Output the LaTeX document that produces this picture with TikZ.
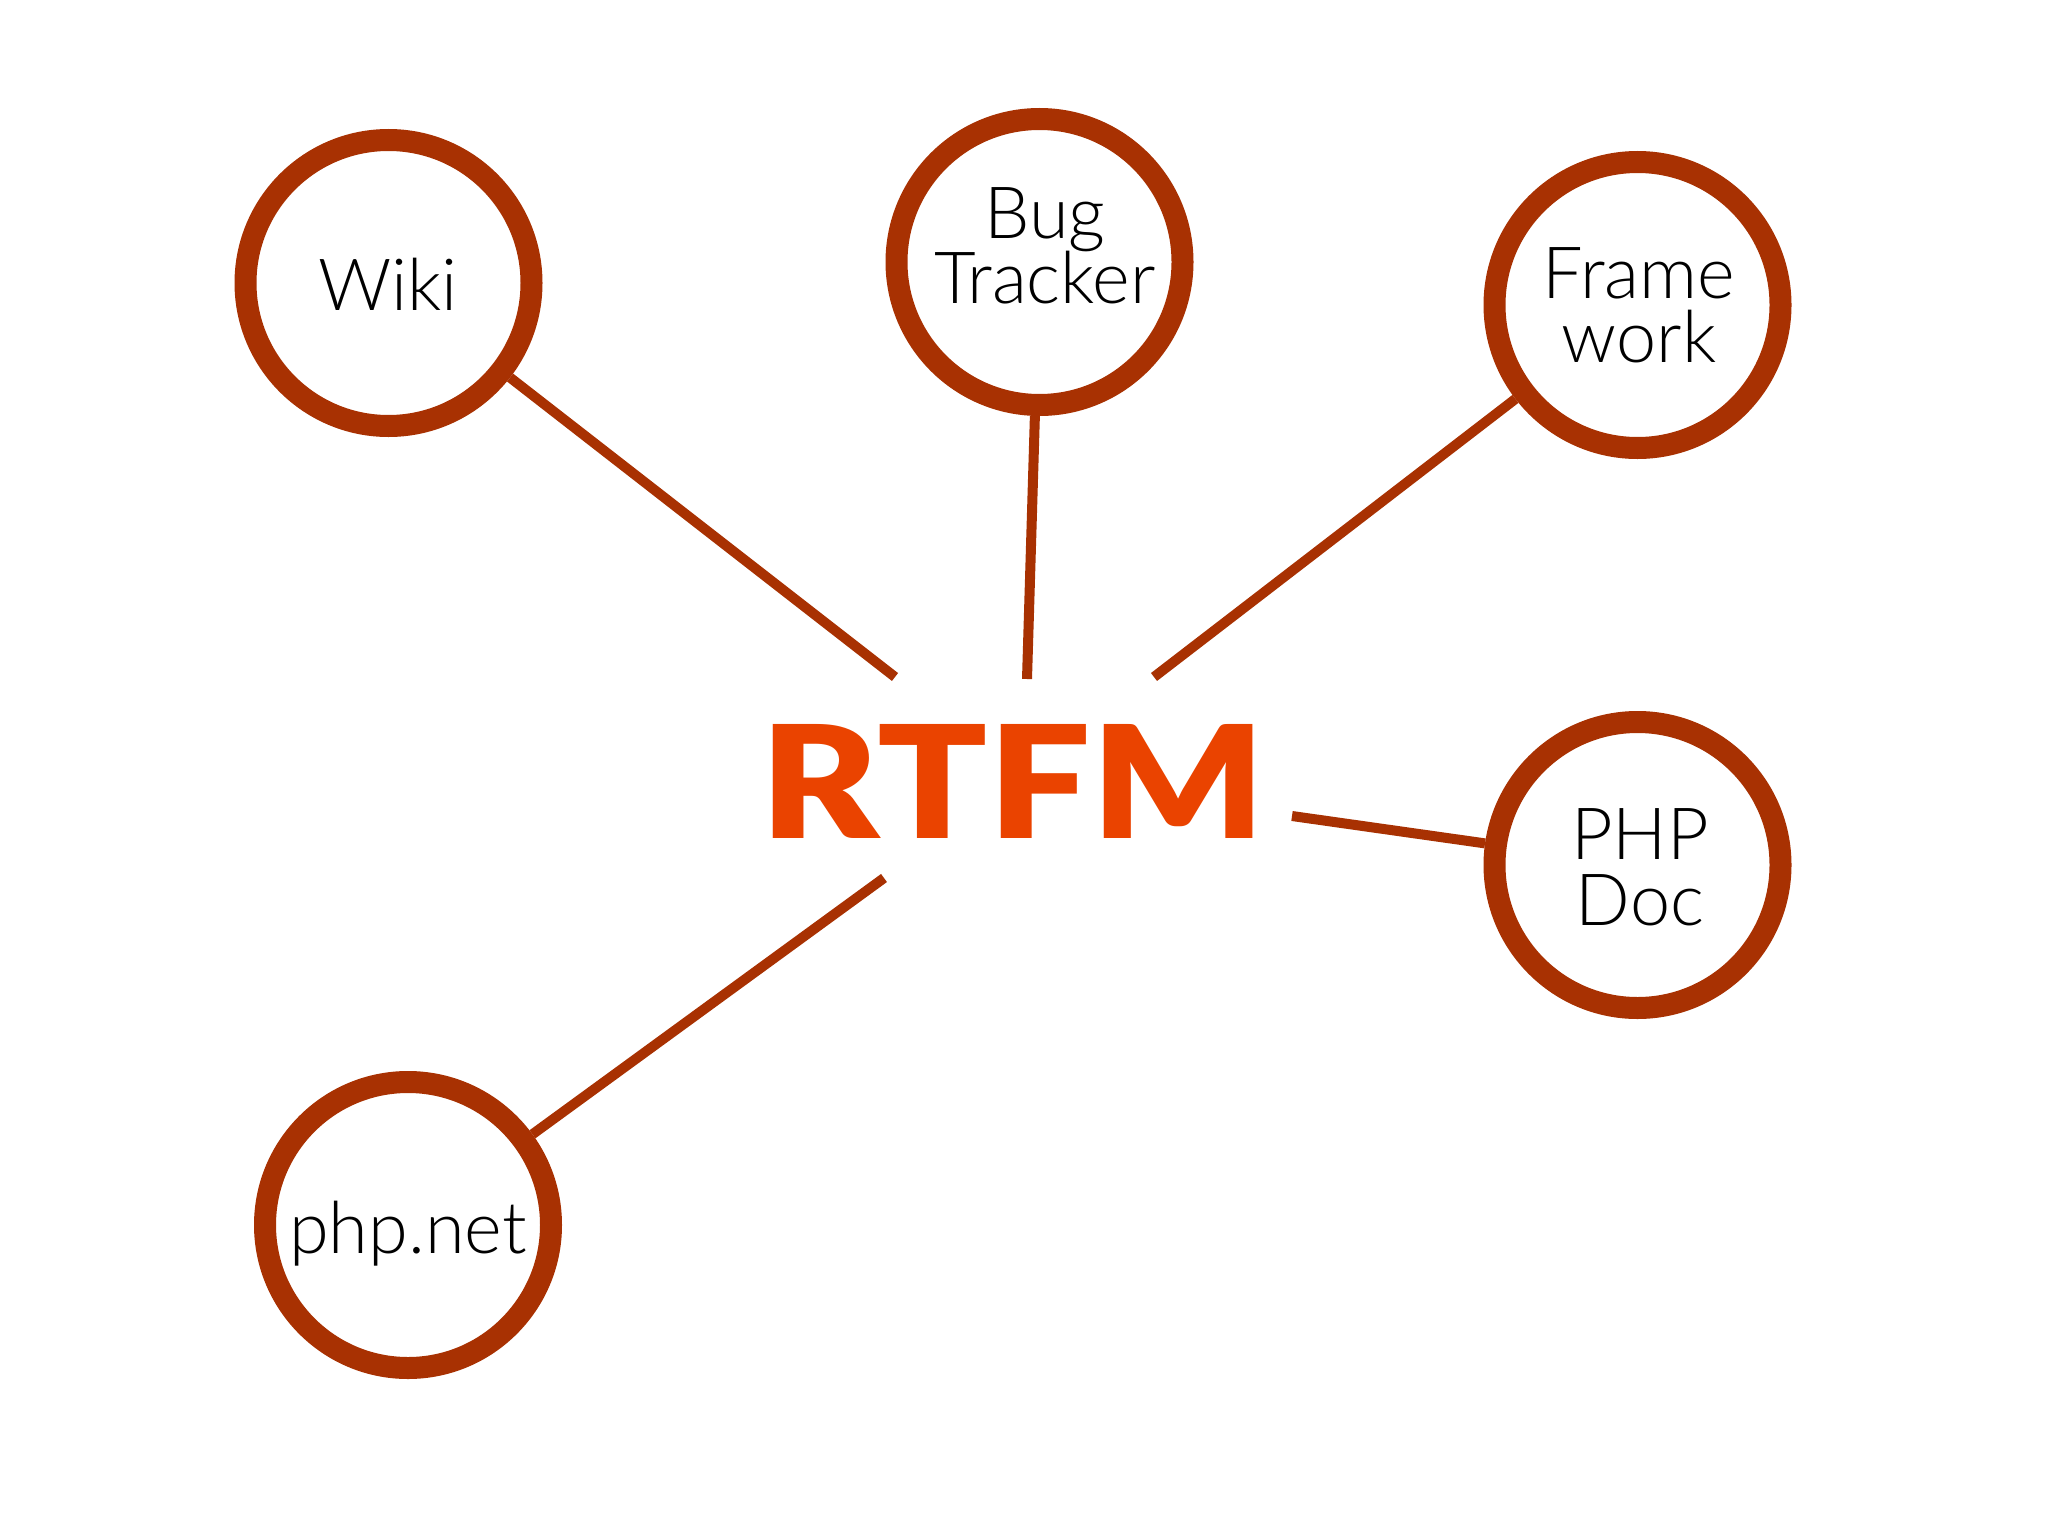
\documentclass[tikz,border=0pt]{standalone}
\usepackage{fontspec}
\newfontfamily\lightfont{Lato Light}
\newfontfamily\heavyfont{Lato Black}
\newcommand\mytightlines{\lineskiplimit=-100pt\relax}
\definecolor{ringc}{RGB}{168,49,2}
\definecolor{rtfmc}{RGB}{234,67,0}
\tikzset{
  ring/.style={circle, draw=ringc, line width=22pt, fill=white, minimum size=286pt, inner sep=0pt},
  conn/.style={draw=ringc, line width=10pt},
  lbl/.style={anchor=base, inner sep=0pt, font=\lightfont\fontsize{72}{72}\selectfont, text=black},
  lbltwo/.style={anchor=base, inner sep=0pt, align=center, text=black,
    font={\lightfont\fontsize{72}{#1}\selectfont\mytightlines}}
}
\begin{document}
\begin{tikzpicture}[x=1pt,y=-1pt]
\useasboundingbox (0,0) rectangle (2048,1536);
\fill[white] (0,0) rectangle (2048,1536);
% circles
\node[ring] (wiki) at (388.5,283) {};
\node[ring] (bug) at (1039.5,262) {};
\node[ring] (frame) at (1637.5,305) {};
\node[ring] (phpdoc) at (1637.5,865) {};
\node[ring] (phpnet) at (408,1225) {};
% labels (base anchor = baseline of the last line)
\node[lbl] (wikit) at (388,310) {Wiki};
\node[lbltwo=65] (bugt) at (1045,303) {Bug\\Tracker};
\node[lbltwo=64] (framet) at (1639,362) {Frame\\work};
\node[lbltwo=66] (phpdoct) at (1640,925) {PHP\\Doc};
\node[lbl] (phpnett) at (408,1253) {php.net};
% centre title
\node[anchor=base, inner sep=0pt, text=rtfmc] (rtfm) at (1013,838) {\resizebox{504pt}{114pt}{\heavyfont RTFM}};
% free ends
\coordinate (e1) at (895,677);
\coordinate (e2) at (1027,679);
\coordinate (e3) at (1154,677);
\coordinate (e4) at (1292,816);
\coordinate (e5) at (884,878);
% connectors
\draw[conn] (e1) -- (wiki);
\draw[conn] (e2) -- (bug);
\draw[conn] (e3) -- (frame);
\draw[conn] (e4) -- (phpdoc);
\draw[conn] (e5) -- (phpnet);
\end{tikzpicture}
\end{document}
